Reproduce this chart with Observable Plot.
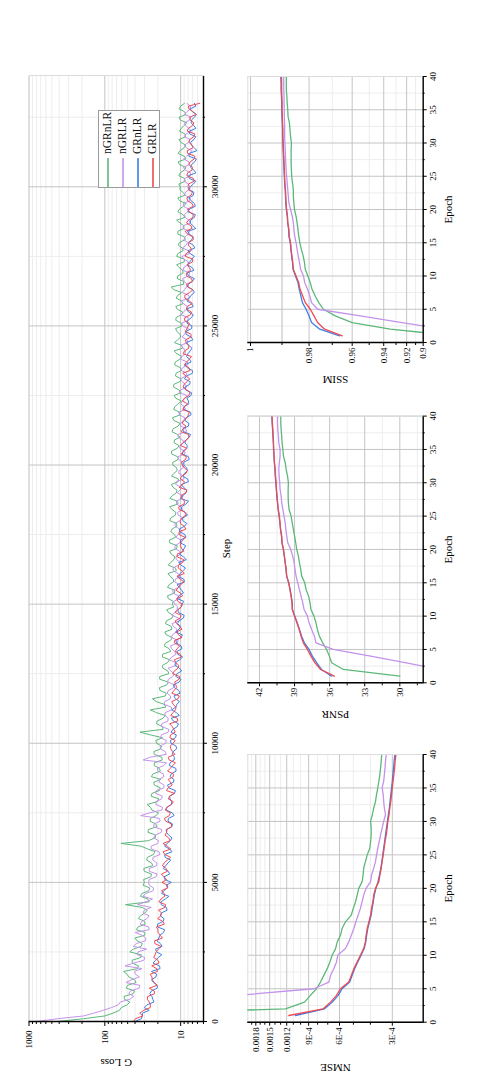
<!DOCTYPE html>
<html>
<head>
<meta charset="utf-8">
<script src="https://cdn.jsdelivr.net/npm/d3@7"></script>
<script src="https://cdn.jsdelivr.net/npm/@observablehq/plot@0.6"></script>
<style>
html, body { margin: 0; padding: 0; background: #fff; width: 503px; height: 1090px; overflow: hidden; }
#fig { position: absolute; left: 0; top: 0; width: 1090px; height: 503px; background: #fff;
  transform-origin: 0 0; transform: translate(0px, 1090px) rotate(-90deg);
  font-family: "Liberation Serif", serif; }
#fig svg, #fig svg text, #fig svg g { font-family: "Liberation Serif", serif !important; }
.panel { position: absolute; }
.panel svg { display: block; }
.legend { position: absolute; left: 902px; top: 98px; width: 78px; height: 62px; box-sizing: border-box;
  border: 1px solid #9a9a9a; background: #fff; padding-top: 1px; font-size: 11.5px; color: #111; }
.legend .row { height: 15px; line-height: 15px; white-space: nowrap; display: flex; align-items: center; }
.legend .row svg { display: block; margin-right: 4px; flex: none; }
</style>
</head>
<body>
<div id="fig"></div>
<script>
// ---------------- data ----------------
const seriesNames  = ["nGRnLR", "nGRLR", "GRnLR", "GRLR"];
const seriesColors = ["#5cb87a", "#c393ec", "#3f7fe6", "#ee4a53"];

// G Loss read at steps 0, 200, 400, ... (even) and 100, 300, 500, ... (odd)
const stepStart = 0, stepEvery = 200;
const loss_nGRnLR = [
 425,100,64,50.6,55.0,42.3,52.3,38.7,48.2,56.7,36.0,43.7,33.1,42.2,32.0,40.1,29.5,36.3,29.9,33.9,27.6,53.4,27.0,32.5,25.5,30.0,
 24.8,30.2,23.3,28.1,23.0,27.2,61.0,21.6,27.0,20.5,25.3,21.1,24.0,27.8,19.4,23.9,18.6,22.6,24.4,18.5,22.3,17.5,22.3,18.3,20.7,
 17.4,34.4,17.3,20.4,16.0,25.1,16.5,23.5,15.5,19.0,14.5,18.9,14.8,17.4,14.0,17.3,14.2,15.9,12.9,16.2,13.3,15.4,12.5,15.3,12.9,
 14.6,12.1,14.9,12.4,13.8,11.4,14.6,12.3,13.3,11.3,13.9,11.7,13.5,11.2,13.9,11.7,13.0,10.8,13.9,11.4,12.6,10.8,13.2,11.1,12.7,
 10.7,13.2,11.1,12.2,10.2,13.0,10.8,12.3,10.2,12.4,10.8,11.6,9.9,12.4,10.2,11.7,9.8,12.0,10.3,11.2,9.4,12.1,10.0,11.2,9.6,
 11.6,9.8,11.1,9.3,11.5,9.7,13.3,9.2,10.9,9.4,11.3,8.9,10.9,9.5,10.4,8.9,10.9,9.1,11.3,9.3,10.4,8.5,10.9,9.3,10.1,
 8.7,10.6,9.0,10.4,8.5,10.8,9.0,10.0,8.6,10.4,9.1,10.1,8.5,10.5,8.9
];
const lossMid_nGRnLR = [
 190,78,60.9,46.8,55.8,40.5,50.1,40.5,51.0,36.9,43.5,33.5,46.9,33.3,37.5,29.7,38.5,29.4,36.1,29.6,32.2,26.0,33.9,26.3,31.4,
 31.0,24.2,30.7,24.2,27.5,21.8,33.1,26.6,21.4,26.6,21.3,25.1,19.6,25.0,20.3,24.6,19.1,22.3,18.3,23.1,19.2,22.2,17.8,22.6,18.0,
 21.3,25.0,17.1,20.9,17.1,20.8,15.7,21.1,15.9,18.8,15.2,18.9,14.3,17.2,14.9,17.4,13.5,16.5,13.6,15.5,13.0,15.9,13.0,14.5,12.3,
 12.5,14.9,11.9,14.2,12.5,14.7,11.7,13.5,11.9,14.0,11.1,14.1,12.0,13.0,11.3,13.5,11.6,14.0,11.0,12.9,11.2,13.3,10.7,12.3,11.3,
 12.7,11.0,13.2,10.5,12.1,11.1,12.6,10.2,12.8,10.4,11.9,9.8,12.2,10.5,12.3,9.9,11.5,10.1,11.8,9.6,12.2,9.7,11.0,10.2,11.7,
 9.8,11.5,9.4,11.6,9.8,10.9,12.3,9.1,11.1,9.3,10.5,9.0,11.3,9.3,10.7,8.7,10.9,9.1,10.2,8.8,10.9,9.2,10.4,8.8,10.3,
 10.6,8.9,10.1,8.5,10.8,9.0,10.2,8.6,10.5,8.8,9.8,8.3,10.5,8.9,10.0
];
const loss_nGRLR = [
 790,190,105,66,46.8,48.3,35.2,52.7,35.0,40.7,54.3,30.6,37.5,28.1,38.4,28.8,39.7,26.4,32.5,26.1,30.2,37.1,23.5,29.1,22.8,26.4,
 21.2,26.0,20.7,23.3,18.7,24.5,20.0,22.7,18.0,22.7,18.6,33.7,17.6,21.3,17.9,21.4,16.6,19.2,16.6,19.9,16.7,31.3,15.5,18.5,15.8,
 18.3,14.6,17.8,14.7,16.1,13.1,16.6,13.6,15.1,12.4,14.9,12.7,13.5,11.4,14.2,11.5,13.2,11.0,13.3,11.4,12.5,10.4,13.1,11.2,11.9,
 10.4,12.6,10.7,12.0,9.9,12.5,10.7,11.4,9.9,11.9,10.3,11.5,9.5,11.8,10.3,10.8,9.4,11.4,9.6,11.1,9.7,11.4,9.1,10.5,9.5,
 10.7,8.8,10.3,9.1,10.8,8.4,9.9,9.1,10.4,8.6,10.0,8.8,10.5,8.3,9.6,8.5,9.9,8.1,10.0,8.7,9.2,8.1,9.6,8.4,9.4,
 8.0,9.9,8.4,9.2,7.7,9.6,8.4,8.9,7.8,9.3,8.0,9.1,7.6,9.5,8.1,8.7,7.6,9.2,7.8,8.9,7.9,9.2,7.5,8.7,8.1,
 9.0,7.4,8.7,7.7,9.1,7.4,8.4,7.8,8.9,7.2,8.6,7.6,8.9,7.4,8.3
];
const lossMid_nGRLR = [
 420,140,82,62.6,41.4,45.9,34.4,44.3,39.4,32.4,41.4,29.7,36.5,42.3,29.0,32.2,26.0,34.2,27.7,31.4,24.4,28.6,31.3,23.0,26.0,
 26.1,20.4,25.9,20.6,23.2,19.3,24.5,19.6,21.6,17.7,22.5,19.1,25.6,17.4,21.1,17.4,21.1,16.6,19.2,17.0,20.4,15.4,25.1,15.9,18.6,
 15.5,18.0,14.3,17.8,14.6,16.1,13.3,16.2,13.6,14.4,11.9,14.5,12.2,14.7,11.6,13.1,12.0,13.6,10.8,12.8,11.2,13.0,10.6,12.0,11.0,
 12.4,10.7,12.7,10.2,11.7,10.8,12.6,9.8,11.6,10.3,11.9,9.9,10.9,10.3,11.9,9.3,11.0,9.9,11.3,9.3,10.2,11.6,9.1,10.6,9.3,
 9.3,10.8,8.8,10.2,9.4,10.8,8.5,10.2,8.8,10.6,9.0,9.5,8.2,10.0,8.7,10.1,8.3,9.4,8.1,9.7,8.7,10.0,8.2,8.9,7.9,
 9.7,8.0,9.2,8.2,9.8,7.8,8.9,8.3,9.5,7.6,9.1,7.9,9.6,7.8,8.5,9.1,8.0,9.3,7.4,8.7,8.1,9.1,7.6,8.8,7.8,
 7.9,8.9,7.4,9.2,7.8,8.4,7.2,8.9,7.5,8.5,7.8,8.9,7.3,8.3,7.5
];
const loss_GRnLR = [
 40,32.2,26.0,27.8,23.3,25.5,20.3,22.8,21.2,24.3,19.0,21.4,17.7,21.5,18.5,19.4,16.8,20.2,17.0,18.6,15.1,18.0,16.0,17.9,15.0,13.3,
 16.6,14.6,15.7,13.5,16.3,14.0,15.1,13.0,15.4,13.1,14.7,12.2,15.5,13.2,13.8,12.1,14.4,12.4,13.8,11.5,14.1,12.2,12.9,11.3,13.4,
 11.7,13.4,11.1,12.5,10.4,13.1,11.2,11.7,10.2,12.1,10.5,11.6,9.7,11.9,10.3,11.0,9.6,11.3,9.8,11.7,10.0,10.5,9.0,10.9,9.6,
 11.1,9.2,10.4,8.9,11.0,9.3,9.9,8.4,10.4,9.0,10.0,8.5,10.3,8.9,9.4,8.1,9.8,8.5,10.1,8.5,9.2,7.9,9.4,8.1,9.1,
 7.7,9.5,8.3,8.8,7.7,9.2,7.9,8.8,7.3,9.2,7.8,8.3,7.2,8.8,7.5,8.3,7.0,8.9,7.6,8.0,7.1,8.4,7.3,8.5,7.1,
 8.0,6.8,8.5,7.2,7.7,6.6,8.1,7.0,7.8,6.7,8.2,7.1,7.5,6.5,7.8,6.8,8.1,6.9,7.4,6.4,7.6,6.6,7.8,6.7,7.5,
 6.3,7.9,6.7,7.2,6.2,7.7,6.6,7.4,6.3,7.7,6.7,7.2,6.2,7.5,6.6
];
const lossMid_GRnLR = [
 32.9,31.9,30.2,22.5,23.9,24.3,20.4,24.2,20.7,18.7,23.2,19.7,20.7,17.6,20.7,18.8,16.3,20.2,16.6,18.0,15.4,18.3,14.3,16.7,15.4,
 16.1,14.0,17.0,14.7,16.0,13.0,16.3,13.7,14.4,15.5,12.8,14.5,12.9,15.2,13.1,14.0,11.7,14.9,12.3,13.3,11.6,13.8,12.1,12.6,11.5,
 13.7,11.4,12.6,10.7,13.3,11.4,11.6,10.4,12.3,10.6,12.5,9.9,11.2,10.4,11.7,9.4,11.2,9.9,11.6,9.5,10.5,11.0,9.2,10.7,9.8,
 9.1,10.6,9.7,11.1,9.1,10.1,8.6,10.6,9.2,9.5,8.6,10.1,8.8,10.4,8.3,9.4,8.8,9.7,7.9,9.4,8.3,9.8,8.1,8.9,8.4,
 9.1,7.9,9.3,8.2,8.5,7.4,9.4,7.8,8.5,7.4,9.0,7.9,7.3,8.6,7.6,8.9,7.0,8.2,7.3,8.4,7.5,7.8,6.9,8.5,7.2,
 8.3,7.2,7.8,6.8,8.3,7.3,6.9,7.9,6.6,8.3,7.1,7.6,6.6,8.0,6.8,7.2,7.7,6.3,7.5,6.6,8.0,6.4,7.3,6.8,7.7,
 6.8,7.7,6.3,7.4,6.5,7.8,6.1,7.2,6.7,7.6,6.3,7.3,6.6,7.0,6.3
];
const loss_GRLR = [
 42,31.4,30.7,25.1,27.5,22.1,25.9,22.3,23.9,20.3,24.1,19.9,21.7,19.7,21.9,17.4,19.9,20.9,17.3,18.2,19.6,15.8,18.2,16.5,14.8,17.7,
 16.6,14.9,17.4,15.0,16.1,13.5,17.1,14.4,15.3,13.2,15.8,14.1,16.0,13.2,14.6,12.1,14.6,13.7,12.5,14.9,12.7,14.2,11.9,13.5,12.6,
 13.9,11.8,12.9,10.9,13.5,11.7,12.6,10.8,13.1,11.3,12.0,10.3,12.1,10.6,12.1,10.1,11.1,12.0,9.6,11.3,10.3,11.8,9.9,10.9,9.5,
 11.3,10.1,10.7,9.0,11.2,9.6,10.7,9.1,11.1,9.7,10.0,8.7,10.5,9.0,10.1,8.5,10.5,9.0,9.6,8.6,10.5,8.9,9.7,8.2,9.5,
 8.6,9.9,8.3,9.4,7.8,9.9,8.5,9.0,7.9,9.4,8.1,8.9,7.5,9.3,8.2,8.5,7.5,8.9,7.7,9.3,7.8,8.5,7.3,8.7,7.9,
 8.9,7.4,8.3,7.0,8.8,7.6,8.0,7.0,8.4,7.4,8.2,6.9,8.5,7.3,7.8,6.9,8.7,7.3,7.9,6.8,8.1,7.1,8.3,7.0,7.7,
 6.6,8.3,7.1,7.8,6.6,8.1,6.9,7.8,6.7,8.2,7.0,7.5,6.3,7.8,5.6
];
const lossMid_GRLR = [
 39.6,34.7,25.2,26.0,27.2,22.4,20.4,23.7,25.2,20.7,19.3,22.7,21.1,18.1,22.0,18.6,19.9,16.4,20.1,17.8,16.1,19.4,16.2,17.9,14.9,
 15.3,17.9,15.5,16.5,13.6,17.1,15.0,13.7,16.1,15.2,13.2,16.4,13.7,15.2,12.5,14.0,15.4,12.9,14.6,12.5,13.7,11.7,14.6,12.8,13.7,
 11.8,13.6,12.3,14.0,11.1,12.6,11.5,13.1,10.4,12.2,11.6,10.5,12.8,10.8,11.6,9.8,11.8,10.3,12.0,10.7,9.6,11.3,10.1,11.8,9.8,
 10.9,9.4,11.5,10.0,10.2,9.0,10.8,9.4,11.1,9.1,10.1,9.4,10.5,8.5,10.1,9.6,8.6,10.6,8.9,9.9,8.3,9.4,10.1,8.5,8.9,
 9.8,8.4,9.0,10.0,8.4,7.9,9.2,9.6,8.3,7.7,8.9,9.5,7.8,8.3,9.0,7.6,9.4,7.8,8.4,7.2,8.9,7.9,8.6,7.3,8.3,
 7.7,8.8,7.2,8.2,7.7,8.8,6.9,8.3,7.2,8.4,7.7,7.0,8.7,7.3,7.9,6.8,8.1,7.1,8.4,6.9,7.7,6.8,8.1,7.3,7.9,
 7.9,6.8,8.1,7.0,7.5,6.5,8.2,7.1,7.6,6.5,7.9,6.7,7.6,6.9,7.9
];

// Per-epoch metrics, epochs 1..40
const epochs = d3.range(1, 41);
const nmse_nGRnLR = [0.02,0.00122,0.00095,0.000879,0.000812,0.00077,0.000737,0.000705,0.000681,0.000661,
 0.000632,0.000618,0.000592,0.00058,0.000555,0.000514,0.000501,0.000486,0.000476,0.000466,
 0.000446,0.00044,0.000437,0.000427,0.000417,0.000403,0.000399,0.000396,0.000396,0.000399,
 0.00039,0.000383,0.000374,0.000369,0.000363,0.000358,0.000353,0.00035,0.000347,0.000345];
const nmse_nGRLR = [0.012,0.007,0.004,0.0023,0.00084,0.00069,0.000675,0.000647,0.000624,0.000614,
 0.000555,0.000531,0.000514,0.000497,0.000484,0.00047,0.000456,0.000446,0.000437,0.000423,
 0.000399,0.000394,0.000383,0.000374,0.000369,0.000363,0.000356,0.00035,0.000343,0.000336,
 0.000328,0.000333,0.000336,0.000338,0.000343,0.000336,0.000333,0.00033,0.000328,0.000325];
const nmse_GRnLR = [0.00107,0.00073,0.00066,0.00061,0.00058,0.000525,0.000508,0.000492,0.000472,0.000452,
 0.000434,0.000425,0.00042,0.000414,0.000405,0.000396,0.000391,0.000385,0.00038,0.000372,
 0.000362,0.000355,0.000349,0.000344,0.00034,0.000336,0.000332,0.000328,0.000324,0.00032,
 0.000316,0.000312,0.000309,0.000306,0.000303,0.0003,0.000298,0.000295,0.000293,0.00029];
const nmse_GRLR = [0.001167,0.000743,0.000675,0.000624,0.000593,0.000531,0.000514,0.000497,0.000476,0.000456,
 0.000437,0.000427,0.000423,0.000417,0.000408,0.000399,0.000394,0.000387,0.000383,0.000374,
 0.000358,0.000353,0.000347,0.000343,0.000338,0.000334,0.00033,0.000325,0.000321,0.000318,
 0.000313,0.00031,0.000306,0.000303,0.0003,0.000297,0.000294,0.000291,0.000289,0.000286];

const psnr_nGRnLR = [30.0,34.83,35.83,36.03,36.26,36.6,36.88,37.05,37.17,37.34,
 37.6,37.68,37.8,38.02,38.13,38.39,38.47,38.58,38.67,38.82,
 38.9,39.0,39.1,39.2,39.3,39.47,39.53,39.55,39.55,39.53,
 39.6,39.72,39.8,39.95,40.0,40.07,40.1,40.15,40.18,40.18];
const psnr_nGRLR = [23.0,26.6,29.45,32.5,35.7,37.17,37.3,37.54,37.76,37.9,
 38.19,38.3,38.45,38.59,38.73,38.87,38.96,39.04,39.16,39.33,
 39.58,39.67,39.75,39.8,39.9,40.0,40.1,40.15,40.24,40.27,
 40.32,40.35,40.3,40.24,40.24,40.35,40.38,40.44,40.46,40.46];
const psnr_GRnLR = [35.83,36.7,37.1,37.48,37.76,38.16,38.4,38.58,38.77,38.98,
 39.18,39.2,39.28,39.38,39.5,39.68,39.73,39.8,39.88,39.96,
 40.08,40.12,40.2,40.26,40.32,40.4,40.46,40.52,40.56,40.6,
 40.65,40.68,40.73,40.76,40.8,40.82,40.85,40.88,40.92,40.95];
const psnr_GRLR = [35.6,36.77,37.25,37.6,37.9,38.25,38.45,38.6,38.8,39.0,
 39.2,39.22,39.3,39.4,39.5,39.67,39.72,39.8,39.87,39.95,
 40.07,40.1,40.2,40.24,40.3,40.4,40.45,40.5,40.55,40.58,
 40.63,40.66,40.72,40.75,40.78,40.8,40.83,40.86,40.9,40.92];

const ssim_nGRnLR = [0.80,0.9349,0.96,0.9686,0.974,0.976,0.9775,0.9788,0.9795,0.9805,
 0.9815,0.9818,0.9823,0.983,0.9836,0.984,0.9843,0.9846,0.985,0.9856,
 0.9858,0.986,0.986,0.9863,0.9866,0.9867,0.9868,0.9868,0.9868,0.9867,
 0.987,0.9872,0.9874,0.9879,0.988,0.9882,0.9883,0.9885,0.9885,0.9885];
const ssim_nGRLR = [0.80,0.857,0.9247,0.9554,0.9765,0.979,0.9797,0.9806,0.9817,0.9822,
 0.9833,0.9837,0.9842,0.9846,0.985,0.9855,0.9858,0.986,0.9864,0.987,
 0.9876,0.9878,0.988,0.9882,0.9884,0.9886,0.9887,0.9888,0.9889,0.989,
 0.9891,0.9891,0.9891,0.9892,0.9892,0.9893,0.9893,0.9894,0.9894,0.9894];
const ssim_GRnLR = [0.9665,0.9756,0.979,0.98,0.9812,0.9826,0.9832,0.9838,0.9843,0.9852,
 0.9861,0.9863,0.9866,0.9869,0.9871,0.9876,0.9877,0.988,0.9882,0.9885,
 0.9887,0.9888,0.9889,0.9891,0.9892,0.9893,0.9894,0.9895,0.9896,0.9897,
 0.9898,0.9898,0.9899,0.99,0.9901,0.9901,0.9902,0.9903,0.9903,0.9904];
const ssim_GRLR = [0.9652,0.9735,0.9765,0.978,0.9795,0.9815,0.9825,0.9835,0.984,0.985,
 0.986,0.9862,0.9865,0.9868,0.987,0.9875,0.9876,0.988,0.9881,0.9884,
 0.9886,0.9887,0.9888,0.989,0.9891,0.9892,0.9893,0.9894,0.9895,0.9896,
 0.9897,0.9897,0.9898,0.9899,0.99,0.99,0.9901,0.9902,0.9902,0.9903];

// axes / ticks
const stepDomain = [0, 34000];
const stepTicks = [0, 5000, 10000, 15000, 20000, 25000, 30000];
const stepMinor = [2500, 7500, 12500, 17500, 22500, 27500, 32500];
const lossDomain = [5, 1000];
const lossTicks = [10, 100, 1000];
const lossTickLabels = ["10", "100", "1000"];
const lossMinor = [5,6,7,8,9,20,30,40,50,60,70,80,90,200,300,400,500,600,700,800,900];

const epochDomain = [0, 40];
const epochTicks = [0, 5, 10, 15, 20, 25, 30, 35, 40];
const epochMinor = [2.5, 7.5, 12.5, 17.5, 22.5, 27.5, 32.5, 37.5];

const nmseDomain = [0.0002, 0.002];
const nmseTicks = [0.0003, 0.0006, 0.0009, 0.0012, 0.0015, 0.0018];
const nmseTickLabels = ["3E-4", "6E-4", "9E-4", "0.0012", "0.0015", "0.0018"];
const nmseMinor = [0.0004,0.0005,0.0007,0.0008,0.001,0.0011,0.0013,0.0014,0.0016,0.0017,0.0019];

const psnrDomain = [28, 43];
const psnrTicks = [30, 33, 36, 39, 42];
const psnrTickLabels = ["30", "33", "36", "39", "42"];
const psnrMinor = [28.5, 31.5, 34.5, 37.5, 40.5];

const ssimDomain = [0.9, 1.0008];
const ssimTicks = [0.9, 0.92, 0.94, 0.96, 0.98, 1];
const ssimTickLabels = ["0.9", "0.92", "0.94", "0.96", "0.98", "1"];
const ssimMinor = [0.91, 0.93, 0.95, 0.97, 0.99];
const ssimGrid = [0.92, 0.94, 0.96, 0.98, 0.99, 1];

// ---------------- drawing ----------------
const FONT = "Liberation Serif";
const MAJOR = "#c4c4c4", MINOR = "#ededed";
const fig = document.getElementById("fig");

function place(node, left, top, width) {
  const d = document.createElement("div");
  d.className = "panel";
  d.style.left = left + "px"; d.style.top = top + "px"; d.style.width = width + "px";
  d.appendChild(node);
  fig.appendChild(d);
}
const baseStyle = {fontFamily: FONT, fontSize: "9px", background: "transparent", color: "#000", maxWidth: "none", overflow: "visible"};

function yLabelsMark(ticks, labels, gap) {
  const m = new Map(ticks.map((t, i) => [t, labels[i]]));
  return Plot.text(ticks, {y: d => d, text: d => m.get(d), frameAnchor: "left", dx: -gap,
    textAnchor: "end", lineAnchor: "middle", fontSize: 9, fontFamily: FONT});
}

// merge the two readings of a series into step order
function lossRows(even, odd) {
  const rows = [];
  even.forEach((v, i) => {
    rows.push({step: stepStart + i * stepEvery, value: v});
    if (i < odd.length) rows.push({step: stepStart + i * stepEvery + stepEvery / 2, value: odd[i]});
  });
  return rows;
}

// --- G Loss vs Step ---
const lossSeries = [
  lossRows(loss_nGRnLR, lossMid_nGRnLR),
  lossRows(loss_nGRLR, lossMid_nGRLR),
  lossRows(loss_GRnLR, lossMid_GRnLR),
  lossRows(loss_GRLR, lossMid_GRLR)
];
const lossPlot = Plot.plot({
  width: 1090, height: 240,
  marginLeft: 68, marginRight: 76, marginTop: 28.5, marginBottom: 37,
  style: baseStyle,
  x: {domain: stepDomain, label: null},
  y: {type: "log", domain: lossDomain, label: null},
  marks: [
    Plot.gridX(stepMinor, {stroke: MINOR, strokeOpacity: 1}),
    Plot.gridY(lossMinor, {stroke: MINOR, strokeOpacity: 1}),
    Plot.gridX(stepTicks, {stroke: MAJOR, strokeOpacity: 1}),
    Plot.gridY(lossTicks, {stroke: MAJOR, strokeOpacity: 1}),
    Plot.frame({stroke: "#dcdcdc"}),
    ...lossSeries.map((rows, k) => Plot.line(rows,
      {x: "step", y: "value", stroke: seriesColors[k], strokeWidth: 1, clip: true})),
    Plot.axisX(stepTicks, {tickSize: 4, tickPadding: 4, tickFormat: d => String(d), label: null, fontFamily: FONT}),
    Plot.axisX(stepMinor, {tickSize: 2, tickFormat: () => "", label: null}),
    Plot.axisY(lossTicks, {tickSize: 4, tickFormat: () => "", label: null}),
    Plot.axisY(lossMinor, {tickSize: 2, tickFormat: () => "", label: null}),
    yLabelsMark(lossTicks, lossTickLabels, 9),
    Plot.ruleX([stepDomain[0]], {stroke: "#000", strokeWidth: 1.4}),
    Plot.ruleY([lossDomain[0]], {stroke: "#000", strokeWidth: 1.4}),
    Plot.text(["Step"], {text: d => d, frameAnchor: "bottom", dy: 23, fontSize: 11, fontFamily: FONT, lineAnchor: "middle", textAnchor: "middle"}),
    Plot.text(["G Loss"], {text: d => d, frameAnchor: "left", dx: -41, rotate: -90, fontSize: 11, fontFamily: FONT, lineAnchor: "middle", textAnchor: "middle"})
  ]
});
place(lossPlot, 0, 0, 1090);

// legend (HTML rows with small SVG swatches)
const SVGNS = "http://www.w3.org/2000/svg";
const legend = document.createElement("div");
legend.className = "legend";
seriesNames.forEach((name, k) => {
  const row = document.createElement("div");
  row.className = "row";
  const sw = document.createElementNS(SVGNS, "svg");
  sw.setAttribute("width", "29"); sw.setAttribute("height", "4");
  const ln = document.createElementNS(SVGNS, "line");
  ln.setAttribute("x1", "0"); ln.setAttribute("x2", "29");
  ln.setAttribute("y1", "2"); ln.setAttribute("y2", "2");
  ln.setAttribute("stroke", seriesColors[k]); ln.setAttribute("stroke-width", "1.6");
  sw.appendChild(ln);
  row.appendChild(sw);
  row.appendChild(document.createTextNode(name));
  legend.appendChild(row);
});
fig.appendChild(legend);

// --- Epoch panels ---
function epochPanel({yScale, yTicks, yLabels, yGrid, yMinor, series, title, titleDx, marginLeft, marginRight}) {
  return Plot.plot({
    width: 345, height: 273,
    marginLeft, marginRight, marginTop: 17.3, marginBottom: 80.3,
    style: baseStyle,
    x: {domain: epochDomain, label: null},
    y: {...yScale, label: null},
    marks: [
      Plot.gridX(epochMinor, {stroke: MINOR, strokeOpacity: 1}),
      Plot.gridY(yMinor, {stroke: MINOR, strokeOpacity: 1}),
      Plot.gridX(epochTicks, {stroke: MAJOR, strokeOpacity: 1}),
      Plot.gridY(yGrid, {stroke: MAJOR, strokeOpacity: 1}),
      Plot.frame({stroke: "#dcdcdc"}),
      ...series.map((vals, k) => Plot.line(
        vals.map((v, i) => ({epoch: epochs[i], value: v})),
        {x: "epoch", y: "value", stroke: seriesColors[k], strokeWidth: 1.3, clip: true})),
      Plot.axisX(epochTicks, {tickSize: 4, tickPadding: 2, tickFormat: d => String(d), label: null, fontFamily: FONT}),
      Plot.axisX(epochMinor, {tickSize: 2, tickFormat: () => "", label: null}),
      Plot.axisY(yTicks, {tickSize: 3, tickFormat: () => "", label: null}),
      Plot.axisY(yMinor, {tickSize: 2, tickFormat: () => "", label: null}),
      yLabelsMark(yTicks, yLabels, 5),
      Plot.ruleX([epochDomain[0]], {stroke: "#000", strokeWidth: 1.4}),
      Plot.ruleY([yScale.domain[0]], {stroke: "#000", strokeWidth: 1.4}),
      Plot.text(["Epoch"], {text: d => d, frameAnchor: "bottom", dy: 25, fontSize: 11, fontFamily: FONT, lineAnchor: "middle", textAnchor: "middle"}),
      Plot.text([title], {text: d => d, frameAnchor: "left", dx: titleDx, rotate: -90, fontSize: 11, fontFamily: FONT, lineAnchor: "middle", textAnchor: "middle"})
    ]
  });
}

place(epochPanel({
  yScale: {type: "log", domain: nmseDomain},
  yTicks: nmseTicks, yLabels: nmseTickLabels, yGrid: nmseTicks, yMinor: nmseMinor,
  series: [nmse_nGRnLR, nmse_nGRLR, nmse_GRnLR, nmse_GRLR],
  title: "NMSE", titleDx: -45, marginLeft: 67.3, marginRight: 10
}), 0, 230, 345);

place(epochPanel({
  yScale: {type: "linear", domain: psnrDomain},
  yTicks: psnrTicks, yLabels: psnrTickLabels, yGrid: psnrTicks, yMinor: psnrMinor,
  series: [psnr_nGRnLR, psnr_nGRLR, psnr_GRnLR, psnr_GRLR],
  title: "PSNR", titleDx: -32, marginLeft: 66.7, marginRight: 11.6
}), 340, 230, 345);

place(epochPanel({
  yScale: {type: "pow", exponent: 16, domain: ssimDomain},
  yTicks: ssimTicks, yLabels: ssimTickLabels, yGrid: ssimGrid, yMinor: ssimMinor,
  series: [ssim_nGRnLR, ssim_nGRLR, ssim_GRnLR, ssim_GRLR],
  title: "SSIM", titleDx: -37, marginLeft: 67, marginRight: 12
}), 680, 230, 345);
</script>
</body>
</html>
